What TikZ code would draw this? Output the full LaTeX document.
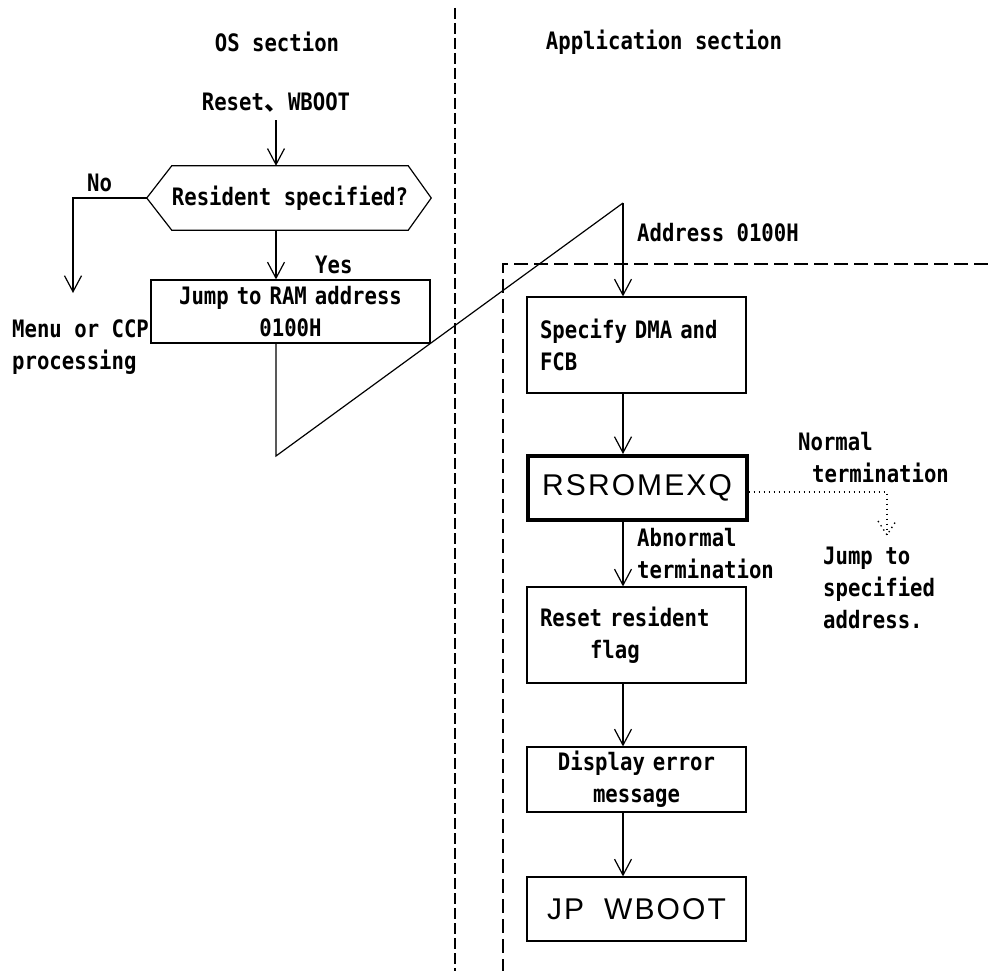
\documentclass[tikz,border=0pt]{standalone}
\usepackage{fontspec}
\usetikzlibrary{arrows.meta,positioning}
\newfontfamily\flowfont{DejaVu Sans Mono}[FakeStretch=0.86]
\newfontfamily\bigfont{Liberation Sans}[LetterSpace=7]
\newfontfamily\cjk{Noto Sans CJK JP}

\begin{document}
\begin{tikzpicture}[
    x=1pt, y=-1pt,
    font=\flowfont\bfseries\fontsize{24}{32}\selectfont,
    block/.style={rectangle, draw, line width=1.2pt, text width=193pt, inner xsep=13pt, inner ysep=0pt},
    heavy/.style={line width=4pt, font=\bigfont\fontsize{30}{32}\selectfont},
    note/.style={inner sep=0pt, align=left},
    line/.style={line width=1.2pt},
    arrow/.style={-{Straight Barb[length=16pt,width=17pt]}, line width=1.2pt},
    dotline/.style={line width=1.3pt, dash pattern=on 1.4pt off 3.6pt},
    divider/.style={line width=1.5pt, dash pattern=on 11pt off 4pt},
    region/.style={line width=1.5pt, dash pattern=on 14pt off 6pt}
]
    \useasboundingbox (0,0) rectangle (988,971);

    % columns
    \draw[divider] (455,8) -- (455,971);
    \draw[region] (988,264) -- (503,264) -- (503,971);
    \coordinate (osflow) at (276,0);
    \coordinate (appflow) at (623,0);

    \node (ostitle) at (277,42) {OS section};
    \node (apptitle) at (664,42) {Application section};

    % OS section
    \node[inner sep=0pt] (reset) at (276,103) {Reset{\cjk 、}WBOOT};
    \node[minimum width=230pt, minimum height=64pt, inner sep=0pt] (decide) at (290,198) {Resident specified?};
    \draw[line] (decide.north west) -- (decide.north east) -- ([xshift=23pt]decide.east)
        -- (decide.south east) -- (decide.south west) -- ([xshift=-25pt]decide.west) -- cycle;
    \node[block, text width=253pt, align=center, minimum height=63pt] (jump) at (290.5,311.5) {Jump to RAM address\\0100H};
    \node[note, anchor=west] (menu) at (12,347) {Menu or CCP\\processing};
    \node[note, anchor=west] (no) at (87,183) {No};
    \node[note, anchor=west] (yes) at (315,265) {Yes};

    \coordinate (nocorner) at (73,198);
    \coordinate (noend) at (73,293);
    \coordinate (low) at (276,456);
    \coordinate (peak) at (623,203);

    \draw[arrow, shorten <=7pt] (reset.south -| osflow) -- (decide.north -| osflow);
    \draw[arrow] (decide.south -| osflow) -- (jump.north -| osflow);
    \draw[arrow] ([xshift=-25pt]decide.west) -- (nocorner) -- (noend);
    \draw[line] (jump.south -| osflow) -- (low) -- (peak);

    % Application section
    \node[note, anchor=west] (addr) at (637,233) {Address 0100H};
    \node[block, align=left, minimum height=96pt] (spec) at (636.5,345) {Specify DMA and\\FCB};
    \node[block, heavy, align=center, minimum height=64pt] (rsrom) at (637,488) {RSROMEXQ};
    \node[block, align=left, minimum height=96pt] (clear) at (636.5,635) {Reset resident\\\hspace*{50pt}flag};
    \node[block, align=center, minimum height=65pt] (errmsg) at (636.5,779.5) {Display error\\message};
    \node[block, align=center, minimum height=64pt, font=\bigfont\fontsize{30}{32}\selectfont] (wboot) at (636.5,909) {JP~~WBOOT};

    \node[note, anchor=west] (normal) at (798,458) {Normal\\\hspace*{14pt}termination};
    \node[note, anchor=west] (target) at (823,588) {Jump to\\specified\\address.};
    \node[note, anchor=west] (abnormal) at (637,554) {Abnormal\\termination};

    \draw[arrow] (peak) -- (spec.north -| appflow);
    \draw[arrow] (spec.south -| appflow) -- (rsrom.north -| appflow);
    \draw[arrow] (rsrom.south -| appflow) -- (clear.north -| appflow);
    \draw[arrow] (clear.south -| appflow) -- (errmsg.north -| appflow);
    \draw[arrow] (errmsg.south -| appflow) -- (wboot.north -| appflow);

    \coordinate (dotcorner) at (887,492);
    \coordinate (dotend) at (887,535);
    \draw[dotline] (rsrom.east |- dotcorner) -- (dotcorner) -- (dotend);
    \draw[dotline] (dotend) ++(-9,-14) -- (dotend) -- ++(9,-14);
\end{tikzpicture}
\end{document}
